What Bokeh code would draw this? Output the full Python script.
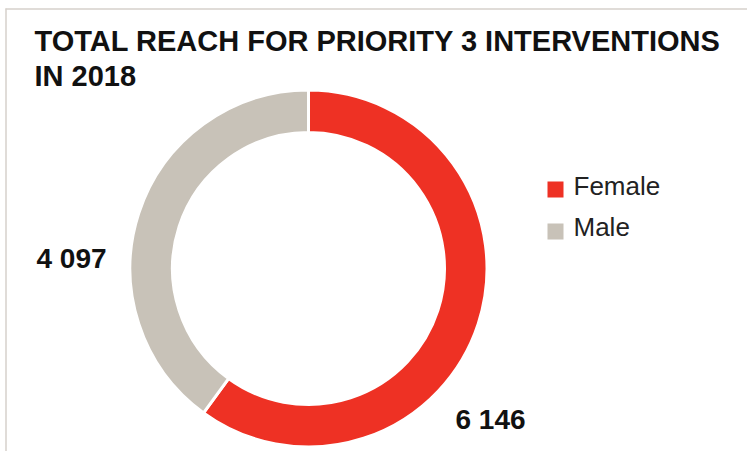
import math
from bokeh.plotting import figure
from bokeh.models import Range1d, ColumnDataSource
from bokeh.core.properties import value
from bokeh.embed import file_html
from bokeh.resources import INLINE

title_lines = ["TOTAL REACH FOR PRIORITY 3 INTERVENTIONS", "IN 2018"]
categories = ["Female", "Male"]
values = [6146, 4097]
value_labels = ["6 146", "4 097"]
colors = ["#EE3124", "#C8C2B8"]

W, H = 747, 451
p = figure(width=W, height=H, output_backend="svg", toolbar_location=None,
           x_range=Range1d(0, W), y_range=Range1d(0, H),
           min_border=0, outline_line_color=None)
p.axis.visible = False
p.grid.visible = False
p.background_fill_color = "white"
p.border_fill_color = "white"

def sy(y):
    # picture y (px from top) -> data y
    return H - y

# frame lines (top and left)
p.segment(x0=[5, 5.5], y0=[sy(8.5), sy(8)], x1=[W, 5.5], y1=[sy(8.5), sy(H)],
          line_color="#D6D1CB", line_width=1.5)

# donut
total = sum(values)
starts, ends = [], []
a = math.pi / 2
for v in values:
    starts.append(a)
    a = a - 2 * math.pi * v / total
    ends.append(a)
src = ColumnDataSource(dict(x=[308] * len(values), y=[sy(268)] * len(values),
                            start=starts, end=ends, color=colors, cat=categories))
p.annular_wedge(x="x", y="y", inner_radius=136, outer_radius=178.5,
                start_angle="start", end_angle="end", direction="clock",
                fill_color="color", line_color="white", line_width=3, source=src)

# title
p.text(x=[34, 34], y=[sy(40), sy(75)], text=title_lines,
       text_font=value("Liberation Sans"), text_font_style="bold",
       text_font_size="29px", text_color="#111111", text_baseline="middle")

# value labels
p.text(x=[455, 36], y=[sy(419), sy(258)], text=value_labels,
       text_font=value("Liberation Sans"), text_font_style="bold",
       text_font_size="28px", text_color="#111111", text_baseline="middle")

# legend
sq_y = [189, 231]
txt_y = [185, 226]
p.rect(x=[555, 555], y=[sy(v) for v in sq_y], width=16, height=16,
       fill_color=colors, line_color=None)
p.text(x=[573, 573], y=[sy(v) for v in txt_y], text=categories,
       text_font=value("Liberation Sans"), text_font_size="26px",
       text_color="#222222", text_baseline="middle")

open("out.html", "w").write(file_html(p, INLINE))
